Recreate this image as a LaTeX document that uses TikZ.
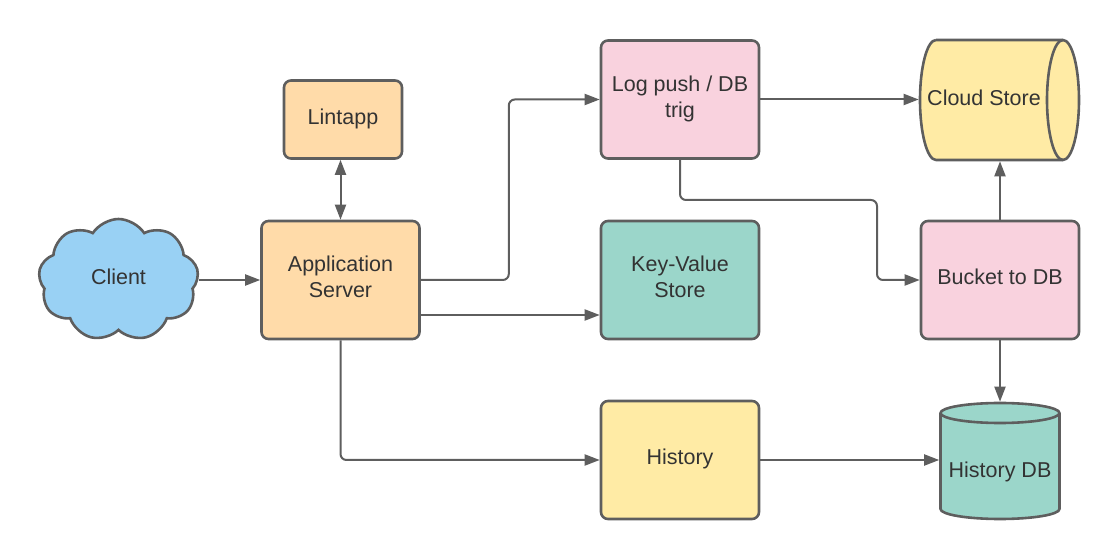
\documentclass[tikz,border=0pt]{standalone}
\usepackage{fontspec}
\setmainfont{Liberation Sans}
\usetikzlibrary{arrows.meta,shapes.symbols}
\definecolor{edge}{HTML}{5E5E5E}
\definecolor{txt}{HTML}{333333}
\definecolor{corange}{HTML}{FFDBA9}
\definecolor{cpink}{HTML}{F9D2DE}
\definecolor{cteal}{HTML}{9BD6CA}
\definecolor{cyellow}{HTML}{FFEBA5}
\definecolor{cblue}{HTML}{99D1F4}
\begin{document}
\begin{tikzpicture}[x=1pt,y=1pt,
  lbl/.style={font=\fontsize{21.5}{26}\selectfont, text=txt, align=center},
  box/.style={lbl, text depth=6pt, draw=edge, line width=2.6pt, rounded corners=7pt,
    minimum width=158pt, minimum height=118pt},
  arr/.style={draw=edge, line width=2pt, -{Triangle[length=15pt,width=11pt]}},
  darr/.style={draw=edge, line width=2pt, {Triangle[length=15pt,width=11pt]}-{Triangle[length=15pt,width=11pt]}},
  shp/.style={draw=edge, line width=2.6pt, line join=round}
]
\useasboundingbox (0,0) rectangle (1120,560);

% boxes
\node[box, fill=corange, minimum width=118pt, minimum height=78pt] (lint) at (343,440.5) {Lintapp};
\node[box, fill=corange] (app) at (340.5,280) {Application\\Server};
\node[box, fill=cpink] (log) at (680,460.5) {Log push / DB\\trig};
\node[box, fill=cteal] (kv) at (680,280) {Key-Value\\Store};
\node[box, fill=cyellow] (hist) at (680,100) {History};
\node[box, fill=cpink] (bkt) at (1000,280) {Bucket to DB};

% client cloud
\node[cloud, cloud puffs=9, cloud puff arc=115, aspect=1.35, draw=edge, fill=cblue, line width=2.6pt,
  minimum width=160pt, minimum height=122pt, lbl, text depth=6pt] (client) at (118.5,280) {Client};

% cloud store cylinder (horizontal)
\path[fill=cyellow] (936,520) -- (1063,520) arc[start angle=90,end angle=-90,x radius=16,y radius=60]
  -- (936,400) arc[start angle=270,end angle=90,x radius=16,y radius=60] -- cycle;
\draw[shp] (936,520) -- (1063,520) (1063,400) -- (936,400) arc[start angle=270,end angle=90,x radius=16,y radius=60];
\draw[shp] (1063,460) ellipse[x radius=16,y radius=60];
\node[minimum width=157pt, minimum height=120pt, inner sep=0pt, outer sep=1.3pt] (cs) at (998.5,460) {};
\node[lbl] at (984,462) {Cloud Store};

% history db cylinder (vertical)
\path[fill=cteal] (940.5,147) arc[start angle=180,end angle=0,x radius=59.5,y radius=10]
  -- (1059.5,51) arc[start angle=0,end angle=-180,x radius=59.5,y radius=10] -- cycle;
\draw[shp] (940.5,147) -- (940.5,51) arc[start angle=180,end angle=360,x radius=59.5,y radius=10] -- (1059.5,147);
\draw[shp] (1000,147) ellipse[x radius=59.5,y radius=10];
\node[minimum width=119pt, minimum height=116pt, inner sep=0pt, outer sep=1.3pt] (hdb) at (1000,99) {};
\node[lbl] at (1000,88) {History DB};

% connectors
\draw[arr] (client.east |- app.west) -- (app.west);
\draw[darr] (app.north) -- (app.north |- lint.south);
\draw[arr, rounded corners=6pt] (app.east) -- ++(88,0) |- (log.west);
\draw[arr] ([yshift=-35pt]app.east) -- ([yshift=-35pt]app.east -| kv.west);
\draw[arr, rounded corners=6pt] (app.south) |- (hist.west);
\draw[arr] (log.east) -- (log.east -| cs.west);
\coordinate (lb) at (877,360);
\draw[arr, rounded corners=6pt] (log.south) |- (lb) |- (bkt.west);
\draw[arr] (bkt.north) -- (bkt.north |- cs.south);
\draw[arr] (bkt.south) -- (bkt.south |- hdb.north);
\draw[arr] (hist.east) -- (hist.east -| hdb.west);
\end{tikzpicture}
\end{document}
